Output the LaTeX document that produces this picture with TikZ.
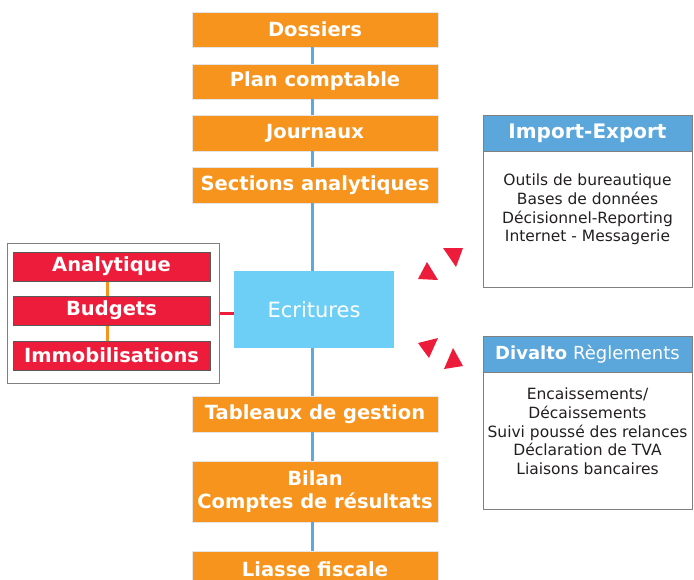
\documentclass[tikz,border=0pt]{standalone}
\usepackage{fontspec}
\setmainfont{DejaVu Sans}
\usepackage{xcolor}
\definecolor{orangebox}{HTML}{F7941D}
\definecolor{bleuligne}{HTML}{5DA9DD}
\definecolor{bleuclair}{HTML}{6DCFF6}
\definecolor{rouge}{HTML}{ED1C3A}
\definecolor{bleutitre}{HTML}{5BA7DC}
\definecolor{gristexte}{HTML}{231F20}
\tikzstyle{etape} = [fill=orangebox, draw=black!10, line width=0.6pt, minimum width=246pt, inner sep=0pt, text=white, align=center, font=\bfseries\fontsize{19.5}{23}\selectfont]
\tikzstyle{module} = [fill=rouge, draw=black!65, line width=1pt, minimum width=197pt, minimum height=29pt, inner sep=0pt, text=white, font=\bfseries\fontsize{19.5}{21}\selectfont]
\tikzstyle{cadre} = [draw=black!50, line width=1pt, inner sep=0pt]
\tikzstyle{titre} = [fill=bleutitre, draw=black!50, line width=1pt, minimum width=209pt, minimum height=36pt, inner sep=0pt, text=white]
\tikzstyle{liste} = [align=center, text=gristexte, font=\fontsize{15.5}{18.7}\selectfont]
\tikzstyle{lien} = [bleuligne, line width=3pt]

\begin{document}
\begin{tikzpicture}[x=1pt, y=-1pt]
		\useasboundingbox (0,0) rectangle (694,579);
		\coordinate (axe) at (312,0);
		\coordinate (axeg) at (107,0);

		% chaine centrale
		\node[etape, minimum height=35pt] (dossiers) at (315,29.5) {Dossiers};
		\node[etape, minimum height=35pt] (plan) at (315,81.5) {Plan comptable};
		\node[etape, minimum height=36pt] (journaux) at (315,133) {Journaux};
		\node[etape, minimum height=36pt] (sections) at (315,185) {Sections analytiques};
		\node[fill=bleuclair, minimum width=160pt, minimum height=77pt, inner sep=0pt,
			text=white, font=\fontsize{21}{23}\selectfont] (ecritures) at (314,309.5) {Ecritures};
		\node[etape, minimum height=36pt] (tableaux) at (315,414) {Tableaux de gestion};
		\node[etape, minimum height=61pt] (bilan) at (315,491.5) {Bilan\\Comptes de résultats};
		\node[etape, minimum height=36pt] (liasse) at (315,569) {Liasse fiscale};

		\draw[lien] (dossiers.south -| axe) -- (plan.north -| axe);
		\draw[lien] (plan.south -| axe) -- (journaux.north -| axe);
		\draw[lien] (journaux.south -| axe) -- (sections.north -| axe);
		\draw[lien] (sections.south -| axe) -- (ecritures.north -| axe);
		\draw[lien] (ecritures.south -| axe) -- (tableaux.north -| axe);
		\draw[lien] (tableaux.south -| axe) -- (bilan.north -| axe);
		\draw[lien] (bilan.south -| axe) -- (liasse.north -| axe);

		% modules a gauche
		\node[cadre, minimum width=212pt, minimum height=140pt] (groupe) at (113,313) {};
		\node[module] (analytique) at (111.5,266.5) {Analytique};
		\node[module] (budgets) at (111.5,310.5) {Budgets};
		\node[module] (immo) at (111.5,355.5) {Immobilisations};
		\draw[orangebox, line width=3pt] (analytique.south -| axeg) -- (budgets.north -| axeg);
		\draw[orangebox, line width=3pt] (budgets.south -| axeg) -- (immo.north -| axeg);
		\draw[rouge, line width=3pt] (groupe.east) -- (ecritures.west |- groupe.east);

		% blocs a droite
		\node[cadre, minimum width=209pt, minimum height=172pt] (import) at (587.5,201) {};
		\node[titre, font=\bfseries\fontsize{20}{22}\selectfont] (importtitre) at (587.5,133) {Import-Export};
		\node[liste] (importliste) at (587.5,209.5) {Outils de bureautique\\Bases de données\\Décisionnel-Reporting\\Internet - Messagerie};

		\node[cadre, minimum width=209pt, minimum height=172pt] (reglt) at (587.5,423) {};
		\node[titre, font=\fontsize{18}{20}\selectfont] (reglttitre) at (587.5,354.5) {\textbf{Divalto} Règlements};
		\node[liste] (regltliste) at (587.5,431.5) {Encaissements/\\Décaissements\\Suivi poussé des relances\\Déclaration de TVA\\Liaisons bancaires};

		% fleches en cycle
		\fill[rouge] (443,248) -- (463,248) -- (456,267) -- cycle;
		\fill[rouge] (427,262) -- (418,279) -- (438,280) -- cycle;
		\fill[rouge] (418,343) -- (438,338) -- (429,358) -- cycle;
		\fill[rouge] (453,348) -- (463,366) -- (444,369) -- cycle;
	\end{tikzpicture}
\end{document}
